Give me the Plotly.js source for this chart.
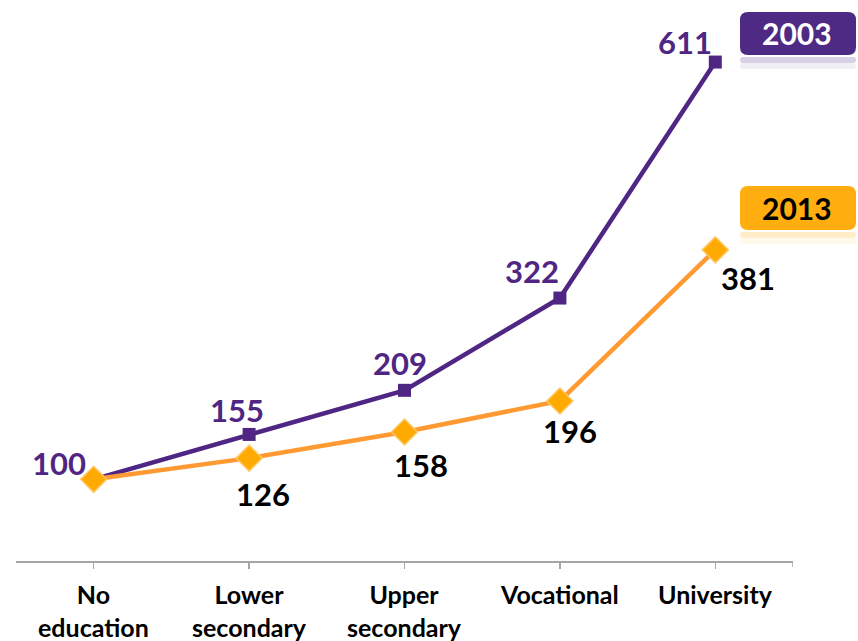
<!DOCTYPE html>
<html><head><meta charset="utf-8">
<script src="https://cdn.plot.ly/plotly-3.0.1.min.js"></script>
<style>body{margin:0;background:#fff}#chart{width:858px;height:641px}</style>
</head><body><div id="chart"></div>
<script>
const categories = ["No<br>education", "Lower<br>secondary", "Upper<br>secondary", "Vocational", "University"];
const values2003 = [100, 155, 209, 322, 611];
const values2013 = [100, 126, 158, 196, 381];
const seriesNames = ["2003", "2013"];

const purple = "#4F2683";
const orangeLine = "#FF9A33";
const orangeMarker = "#FFAA00";

const xs = categories.map((c, i) => i);

const traces = [
  {x: xs, y: values2003, type: "scatter", mode: "lines+markers", name: seriesNames[0],
   line: {color: purple, width: 4.5}, marker: {symbol: "square", size: 13, color: purple}},
  {x: xs, y: values2013, type: "scatter", mode: "lines+markers", name: seriesNames[1],
   line: {color: orangeLine, width: 4.5}, marker: {symbol: "diamond", size: 20, color: orangeMarker, line: {color: "#FFC766", width: 1.5}}}
];

// plot area in pixels: x 16..793, y 20..561
const PL = 16, PR = 793, PT = 20, PB = 561;
function px2paperX(p){ return (p - PL) / (PR - PL); }
function px2paperY(p){ return (PB - p) / (PB - PT); }

const lab = {family: "Lato, 'Open Sans', sans-serif", size: 31, weight: 700};
const off2003 = [[-35, 16], [-12, 24], [-5, 27], [-28, 27], [-30, 20]];
const off2013 = [[0, 0], [14, -36], [16, -33], [10, -30], [33, -28]];
const annotations = [];
values2003.forEach((v, i) => annotations.push({x: i, y: v, text: String(v), showarrow: false,
  xshift: off2003[i][0], yshift: off2003[i][1], font: Object.assign({color: purple}, lab)}));
values2013.forEach((v, i) => { if (i > 0) annotations.push({x: i, y: v, text: String(v), showarrow: false,
  xshift: off2013[i][0], yshift: off2013[i][1], font: Object.assign({color: "#000"}, lab)}); });

// category labels as annotations (placed to match the reference)
const catFont = {family: "Lato, sans-serif", size: 25, weight: 700, color: "#000"};
categories.forEach((c, i) => {
  const lines = c.split("<br>").length;
  annotations.push({x: i, xref: "x", yref: "paper", y: px2paperY(lines > 1 ? 610 : 594), text: c,
    showarrow: false, xanchor: "center", yanchor: "middle", borderpad: 0, font: catFont});
});

function roundRect(x0, y0, x1, y1, r){
  const X0 = px2paperX(x0), X1 = px2paperX(x1), Y0 = px2paperY(y0), Y1 = px2paperY(y1);
  const rx = r / (PR - PL), ry = r / (PB - PT);
  return `M${X0+rx},${Y0} L${X1-rx},${Y0} Q${X1},${Y0} ${X1},${Y0-ry} L${X1},${Y1+ry} Q${X1},${Y1} ${X1-rx},${Y1} L${X0+rx},${Y1} Q${X0},${Y1} ${X0},${Y1+ry} L${X0},${Y0-ry} Q${X0},${Y0} ${X0+rx},${Y0} Z`;
}
const boxes = [
  {y0: 12, y1: 55, fill: "#4F2A84", text: seriesNames[0], tc: "#fff"},
  {y0: 186, y1: 230, fill: "#FFAD0F", text: seriesNames[1], tc: "#000"}
];
const shapes = [];
boxes.forEach(b => {
  shapes.push({type: "path", xref: "paper", yref: "paper", path: roundRect(740, b.y1 + 2, 856, b.y1 + 8, 3),
    fillcolor: b.fill, opacity: 0.22, line: {width: 0}});
  shapes.push({type: "path", xref: "paper", yref: "paper", path: roundRect(740, b.y1 + 8, 856, b.y1 + 14, 3),
    fillcolor: b.fill, opacity: 0.08, line: {width: 0}});
  shapes.push({type: "path", xref: "paper", yref: "paper", path: roundRect(740, b.y0, 856, b.y1, 8),
    fillcolor: b.fill, line: {width: 0}});
  annotations.push({xref: "paper", yref: "paper", x: px2paperX(797), y: px2paperY((b.y0 + b.y1) / 2),
    text: b.text, showarrow: false, xanchor: "center", yanchor: "middle",
    font: {family: "Lato, sans-serif", size: 30, weight: 700, color: b.tc}});
});
// end tick at right edge of axis
shapes.push({type: "line", xref: "x", yref: "paper", x0: 4.5, x1: 4.5, y0: 0, y1: -6 / (PB - PT),
  line: {color: "#A6A6A6", width: 1.5}});

const layout = {
  width: 858, height: 641,
  margin: {l: PL, r: 858 - PR, t: PT, b: 641 - PB},
  paper_bgcolor: "#fff", plot_bgcolor: "#fff",
  showlegend: false,
  xaxis: {range: [-0.5, 4.5], tickvals: xs, showticklabels: false, showgrid: false, zeroline: false,
    showline: true, linecolor: "#A6A6A6", linewidth: 1.5, ticks: "outside", ticklen: 6, tickcolor: "#A6A6A6", tickwidth: 1.5},
  yaxis: {range: [0, 662.5], visible: false, showgrid: false, zeroline: false},
  annotations: annotations,
  shapes: shapes
};
Plotly.newPlot("chart", traces, layout, {displayModeBar: false, staticPlot: true});
</script></body></html>
